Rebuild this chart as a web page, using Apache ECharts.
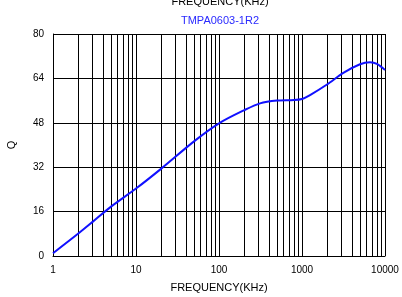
<!DOCTYPE html>
<html><head><meta charset="utf-8">
<script src="https://cdn.jsdelivr.net/npm/echarts@6/dist/echarts.min.js"></script>
<style>html,body{margin:0;padding:0;background:#fff}#c{width:402px;height:297px}</style>
</head><body><div id="c"></div>
<script>
const freq = [1, 2, 3, 5, 10, 20, 50, 100, 200, 312, 500, 800, 1000, 1250, 2000, 3150, 5000, 6600, 8000, 10000];
const qValues = [1.0, 8.0, 12.3, 17.8, 24.3, 31.4, 41.3, 47.8, 52.5, 55.0, 56.0, 56.2, 56.6, 58.0, 61.8, 66.0, 69.1, 69.8, 69.2, 67.0];
const minorLines = [2,3,4,5,6,7,8,9,20,30,40,50,60,70,80,90,200,300,400,500,600,700,800,900,2000,3000,4000,5000,6000,7000,8000,9000];
const yTicks = [0, 16, 32, 48, 64, 80];
const titleText = 'FREQUENCY(KHz)';
const subText = 'TMPA0603-1R2';
const xName = 'FREQUENCY(KHz)';
const yName = 'Q';

const chart = echarts.init(document.getElementById('c'), null, {renderer: 'canvas'});
const font = 'Liberation Sans, Arial, sans-serif';
chart.setOption({
  animation: false,
  textStyle: {fontFamily: font},
  title: {
    text: titleText, subtext: subText, left: 215, textAlign: 'center', top: -9, itemGap: 8,
    textStyle: {fontSize: 11, fontWeight: 'normal', color: '#000', fontFamily: font},
    subtextStyle: {fontSize: 11, color: '#2a2aff', fontFamily: font}
  },
  grid: {left: 53, right: 17, top: 34, bottom: 41, containLabel: false, outerBoundsMode: 'none'},
  xAxis: {
    type: 'log', logBase: 10, min: 1, max: 10000,
    name: xName, nameLocation: 'middle', nameGap: 26,
    nameTextStyle: {fontSize: 11, color: '#000', fontFamily: font},
    axisLine: {show: true, lineStyle: {color: '#000', width: 1}},
    axisTick: {show: false},
    axisLabel: {fontSize: 10, color: '#000', margin: 9, fontFamily: font, formatter: v => String(Math.round(v))},
    splitLine: {show: true, lineStyle: {color: '#000', width: 1}}
  },
  yAxis: {
    type: 'value', min: 0, max: 80, interval: 16,
    name: yName, nameLocation: 'middle', nameGap: 36, nameRotate: 90,
    nameTextStyle: {fontSize: 11, color: '#000', fontFamily: font},
    axisLine: {show: true, lineStyle: {color: '#000', width: 1}},
    axisTick: {show: false},
    axisLabel: {fontSize: 10, color: '#000', margin: 9, fontFamily: font},
    splitLine: {show: true, lineStyle: {color: '#000', width: 1}}
  },
  series: [{
    type: 'line', smooth: 0.3, showSymbol: false,
    data: freq.map((f, i) => [f, qValues[i]]),
    lineStyle: {color: '#1010ff', width: 2},
    z: 5,
    markLine: {
      silent: true, symbol: 'none', label: {show: false},
      lineStyle: {color: '#000', width: 1, type: 'solid'},
      data: minorLines.map(v => ({xAxis: v})),
      z: 1
    }
  }]
});
</script></body></html>
